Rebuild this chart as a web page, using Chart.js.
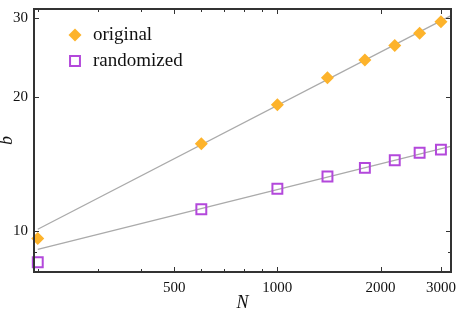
<!DOCTYPE html>
<html>
<head>
<meta charset="utf-8">
<script src="https://cdn.jsdelivr.net/npm/chart.js@4.4.0/dist/chart.umd.min.js"></script>
<style>
  html, body { margin: 0; padding: 0; background: #fff; }
  #wrap { width: 460px; height: 310px; position: relative; }
</style>
</head>
<body>
<div id="wrap"><canvas id="chart"></canvas></div>
<script>
// data
const sizes = [200, 600, 1000, 1400, 1800, 2200, 2600, 3000];
const originalB = [9.63, 15.7, 19.2, 22.1, 24.2, 26.1, 27.8, 29.5];
const randomizedB = [8.52, 11.2, 12.45, 13.26, 13.87, 14.42, 14.99, 15.24];
// fitted power laws (end points)
const fitN = [200, 3200];
const fitOriginal = [10.1, 30.4];
const fitRandomized = [9.1, 15.5];
// ticks
const xMajorTicks = [500, 1000, 2000, 3000];
const xMinorTicks = [200, 300, 400, 600, 700, 800, 900];
const yMajorTicks = [10, 20, 30];
const yMinorTicks = [9];

const ORANGE = "#fdb32b";
const PURPLE = "#b348db";
const FONT = "'Liberation Serif', 'DejaVu Serif', serif";

function points(xs, ys) {
    return xs.map((v, i) => ({ x: v, y: ys[i] }));
}

// frame, inward ticks and legend
const frameTicks = {
    id: "frameTicks",
    afterDatasetsDraw(chart) {
        const { ctx, chartArea: a, scales } = chart;
        const x = scales.x, y = scales.y;
        ctx.save();
        ctx.strokeStyle = "#333";
        ctx.lineWidth = 1;
        function seg(x1, y1, x2, y2) {
            ctx.beginPath();
            ctx.moveTo(x1, y1);
            ctx.lineTo(x2, y2);
            ctx.stroke();
        }
        function xTicks(list, len) {
            list.forEach(function (v) {
                const px = Math.round(x.getPixelForValue(v)) + 0.5;
                seg(px, a.bottom, px, a.bottom - len);
                seg(px, a.top, px, a.top + len);
            });
        }
        function yTicks(list, len) {
            list.forEach(function (v) {
                const py = Math.round(y.getPixelForValue(v)) + 0.5;
                seg(a.left, py, a.left + len, py);
                seg(a.right, py, a.right - len, py);
            });
        }
        xTicks(xMajorTicks, 5);
        xTicks(xMinorTicks, 3);
        yTicks(yMajorTicks, 5);
        yTicks(yMinorTicks, 3);

        ctx.lineWidth = 2;
        ctx.strokeRect(a.left, a.top, a.right - a.left, a.bottom - a.top);

        // legend
        const items = [
            { text: "original", style: "rectRot", r: 6.5, fill: ORANGE, stroke: ORANGE, bw: 0, y: 35 },
            { text: "randomized", style: "rect", r: 7, fill: "rgba(0,0,0,0)", stroke: PURPLE, bw: 2, y: 61 }
        ];
        ctx.font = "19px " + FONT;
        ctx.textBaseline = "middle";
        ctx.textAlign = "left";
        items.forEach(function (it) {
            ctx.fillStyle = it.fill;
            ctx.strokeStyle = it.stroke;
            ctx.lineWidth = it.bw;
            Chart.helpers.drawPoint(ctx, { pointStyle: it.style, radius: it.r, borderWidth: it.bw, rotation: 0 }, 75, it.y);
            ctx.fillStyle = "#111";
            ctx.fillText(it.text, 93, it.y);
        });
        ctx.restore();
    }
};

function setTicks(list) {
    return function (scale) {
        scale.ticks = list.slice().sort((p, q) => p - q).map(v => ({ value: v }));
    };
}

const ctx = document.getElementById("chart").getContext("2d");
new Chart(ctx, {
    data: {
        datasets: [
            {
                type: "scatter",
                label: "original",
                data: points(sizes, originalB),
                pointStyle: "rectRot",
                pointRadius: 6.5,
                pointHoverRadius: 6.5,
                backgroundColor: ORANGE,
                borderColor: ORANGE,
                borderWidth: 0,
                clip: false,
                order: 1
            },
            {
                type: "scatter",
                label: "randomized",
                data: points(sizes, randomizedB),
                pointStyle: "rect",
                pointRadius: 7,
                pointHoverRadius: 7,
                backgroundColor: "rgba(0,0,0,0)",
                borderColor: PURPLE,
                borderWidth: 2,
                clip: false,
                order: 1
            },
            {
                type: "line",
                label: "fit original",
                data: points(fitN, fitOriginal),
                borderColor: "#aaaaaa",
                borderWidth: 1.3,
                pointRadius: 0,
                fill: false,
                order: 2
            },
            {
                type: "line",
                label: "fit randomized",
                data: points(fitN, fitRandomized),
                borderColor: "#aaaaaa",
                borderWidth: 1.3,
                pointRadius: 0,
                fill: false,
                order: 2
            }
        ]
    },
    options: {
        responsive: true,
        maintainAspectRatio: false,
        animation: false,
        events: [],
        layout: { padding: { left: 0, right: 7, top: 3, bottom: 0 } },
        plugins: {
            legend: { display: false },
            tooltip: { enabled: false }
        },
        scales: {
            x: {
                type: "logarithmic",
                position: "bottom",
                min: 195,
                max: 3210,
                grid: { display: false, drawTicks: false },
                border: { display: false },
                afterBuildTicks: setTicks(xMajorTicks.concat(xMinorTicks)),
                afterFit: function (scale) {
                    scale.height = 38;
                    scale.paddingLeft = 0;
                    scale.paddingRight = 0;
                },
                ticks: {
                    autoSkip: false,
                    maxRotation: 0,
                    padding: 7,
                    color: "#111",
                    font: { family: FONT, size: 15 },
                    callback: function (value) {
                        return xMajorTicks.includes(value) ? String(value) : "";
                    }
                },
                title: {
                    display: true,
                    text: "N",
                    color: "#111",
                    padding: 0,
                    font: { family: FONT, size: 18, style: "italic", lineHeight: 0.8 }
                }
            },
            y: {
                type: "logarithmic",
                position: "left",
                min: 8.1,
                max: 31.5,
                grid: { display: false, drawTicks: false },
                border: { display: false },
                afterBuildTicks: setTicks(yMajorTicks.concat(yMinorTicks)),
                afterFit: function (scale) {
                    scale.width = 34;
                    scale.paddingTop = 0;
                    scale.paddingBottom = 0;
                },
                ticks: {
                    autoSkip: false,
                    padding: 6,
                    color: "#111",
                    font: { family: FONT, size: 15 },
                    callback: function (value) {
                        return yMajorTicks.includes(value) ? String(value) : "";
                    }
                },
                title: {
                    display: true,
                    text: "b",
                    color: "#111",
                    padding: 0,
                    font: { family: FONT, size: 18, style: "italic", lineHeight: 0.8 }
                }
            }
        }
    },
    plugins: [frameTicks]
});
</script>
</body>
</html>
